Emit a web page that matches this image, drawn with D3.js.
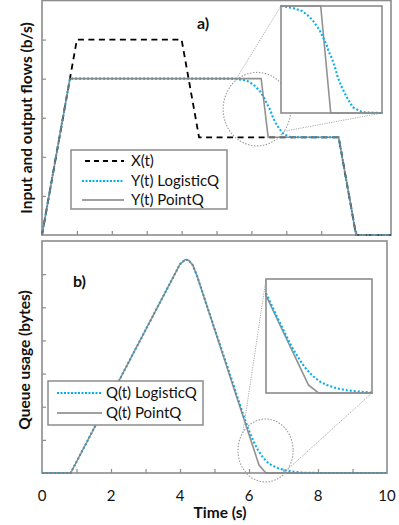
<!DOCTYPE html>
<html><head><meta charset="utf-8">
<script src="https://cdn.jsdelivr.net/npm/d3@7"></script>
<style>
html,body{margin:0;padding:0;background:#fff;}
svg{display:block;font-family:Lato,"Open Sans",sans-serif;}
</style></head>
<body><svg id="c" width="399" height="525"></svg>
<script>
// ---------- data ----------
const timeTicks = [0, 2, 4, 6, 8, 10];
const minorTicks = [1, 2, 3, 4, 5, 6, 7, 8, 9];
const flowTicks = [1, 2, 3, 4, 5];
const queueTicks = [1, 2, 3, 4, 5, 6];

const xT = [0, 0.8, 1.0, 4.0, 4.5, 8.5, 9.0, 10];
const xV = [0, 4, 5, 5, 2.5, 2.5, 0, 0];

const yPointT = [0, 0.8, 6.28, 6.48, 8.5, 9.0, 10];
const yPointV = [0, 4, 4, 2.5, 2.5, 0, 0];

const yLogT = [0, 0.8, 5.5, 5.73, 5.91, 6.02, 6.12, 6.26, 6.32, 6.40, 6.44, 6.50, 6.56, 6.62, 6.70, 6.80, 6.92, 7.11, 7.45, 8.5, 9.0, 10];
const yLogV = [0, 4, 4, 3.97, 3.93, 3.87, 3.80, 3.66, 3.57, 3.45, 3.36, 3.27, 3.15, 3.0, 2.86, 2.72, 2.58, 2.51, 2.5, 2.5, 0, 0];

const qPointT = [0, 0.83, 4.0, 4.15, 4.25, 4.37, 4.5, 6.29, 6.49, 10];
const qPointV = [0, 0, 6.3, 6.44, 6.42, 6.27, 5.93, 0.24, 0, 0];

const qLogT = [0, 0.83, 4.0, 4.15, 4.25, 4.37, 4.5, 5.0, 5.5, 5.66, 5.76, 5.86, 5.96, 6.06, 6.16, 6.26, 6.39, 6.52, 6.65, 6.85, 7.05, 7.31, 7.55, 8, 10];
const qLogV = [0, 0, 6.3, 6.44, 6.42, 6.27, 5.93, 4.36, 2.82, 2.30, 1.99, 1.68, 1.38, 1.13, 0.89, 0.69, 0.49, 0.34, 0.24, 0.14, 0.08, 0.04, 0.01, 0, 0];

const legendA = ["X(t)", "Y(t) LogisticQ", "Y(t) PointQ"];
const legendB = ["Q(t) LogisticQ", "Q(t) PointQ"];

// zoom windows (data units)
const zoomA = {x: [5.49, 7.5], y: [2.5, 4], cx: 6.16, cy: 3.22, rx: 0.97, ry: 0.94};
const zoomB = {x: [5.45, 7.55], y: [0, 3.4], cx: 6.48, cy: 0.68, rx: 0.8, ry: 0.95};

// ---------- styles ----------
const GRAY = "#7f7f7f", BLUE = "#00b0f0", FRAME = "#8c8c8c";
const zip = (t, v) => t.map((d, i) => [d, v[i]]);
const svg = d3.select("#c");

const sxA = d3.scaleLinear().domain([0, 10]).range([42, 391]);
const syA = d3.scaleLinear().domain([0, 6]).range([235, 0.5]);
const sxB = d3.scaleLinear().domain([0, 10]).range([42, 387]);
const syB = d3.scaleLinear().domain([0, 7]).range([473, 241]);

function series(g, sx, sy, t, v, kind, clip) {
  const line = d3.line().x(d => sx(d[0])).y(d => sy(d[1]));
  const p = g.append("path").attr("d", line(zip(t, v))).attr("fill", "none");
  if (clip) p.attr("clip-path", clip);
  if (kind === "dash") p.attr("stroke", "#000").attr("stroke-width", 1.8).attr("stroke-dasharray", "6,4.5");
  if (kind === "solid") p.attr("stroke", GRAY).attr("stroke-width", 1.6).attr("stroke-opacity", 0.85);
  if (kind === "dot") p.attr("stroke", BLUE).attr("stroke-width", 2.1).attr("stroke-dasharray", "2,2");
  return p;
}

function frame(sx, sy, yt) {
  const g = svg.append("g");
  const [x0, x1] = sx.range(), [y0, y1] = sy.range();
  g.append("g").attr("transform", `translate(0,${y0})`)
    .call(d3.axisTop(sx).tickValues(minorTicks).tickSize(4).tickFormat(""))
    .call(a => a.select(".domain").remove())
    .selectAll("line").attr("stroke", FRAME).attr("stroke-width", 1.2);
  g.append("g").attr("transform", `translate(${x0},0)`)
    .call(d3.axisRight(sy).tickValues(yt).tickSize(4).tickFormat(""))
    .call(a => a.select(".domain").remove())
    .selectAll("line").attr("stroke", FRAME).attr("stroke-width", 1.2);
  g.append("rect").attr("x", x0).attr("y", y1).attr("width", x1 - x0).attr("height", y0 - y1)
    .attr("fill", "none").attr("stroke", FRAME).attr("stroke-width", 1.6);
  return g;
}

function zoomInset(sx, sy, z, box, list, clipId, startAng, endAng) {
  const cx = sx(z.cx), cy = sy(z.cy);
  const rx = sx(z.cx + z.rx) - cx, ry = sy(z.cy - z.ry) - cy;
  svg.append("ellipse").attr("cx", cx).attr("cy", cy).attr("rx", rx).attr("ry", ry)
    .attr("fill", "none").attr("stroke", "#999").attr("stroke-width", 1.1).attr("stroke-dasharray", "1.5,1.5");
  const pt = a => [cx + rx * Math.cos(a * Math.PI / 180), cy + ry * Math.sin(a * Math.PI / 180)];
  const p1 = pt(startAng), p2 = pt(endAng);
  svg.append("line").attr("x1", p1[0]).attr("y1", p1[1]).attr("x2", box.x0).attr("y2", box.y0)
    .attr("stroke", "#aaa").attr("stroke-width", 1).attr("stroke-dasharray", "1.2,1.2");
  svg.append("line").attr("x1", p2[0]).attr("y1", p2[1]).attr("x2", box.x1).attr("y2", box.y1)
    .attr("stroke", "#aaa").attr("stroke-width", 1).attr("stroke-dasharray", "1.2,1.2");
  const ix = d3.scaleLinear().domain(z.x).range([box.x0, box.x1]);
  const iy = d3.scaleLinear().domain(z.y).range([box.y1, box.y0]);
  svg.append("rect").attr("x", box.x0).attr("y", box.y0).attr("width", box.x1 - box.x0).attr("height", box.y1 - box.y0)
    .attr("fill", "#fff");
  svg.append("clipPath").attr("id", clipId).append("rect")
    .attr("x", box.x0 - 1).attr("y", box.y0 - 1).attr("width", box.x1 - box.x0 + 2).attr("height", box.y1 - box.y0 + 2);
  const g = svg.append("g");
  list.forEach(s => series(g, ix, iy, s[0], s[1], s[2], `url(#${clipId})`));
  svg.append("rect").attr("x", box.x0).attr("y", box.y0).attr("width", box.x1 - box.x0).attr("height", box.y1 - box.y0)
    .attr("fill", "none").attr("stroke", FRAME).attr("stroke-width", 1.6);
}

function legend(x, y, w, h, rowY, items) {
  const g = svg.append("g");
  g.append("rect").attr("x", x).attr("y", y).attr("width", w).attr("height", h)
    .attr("fill", "#fff").attr("stroke", FRAME).attr("stroke-width", 1.5);
  items.forEach((it, i) => {
    const yy = rowY[i];
    const l = g.append("line").attr("x1", it.lx0).attr("x2", it.lx1).attr("y1", yy).attr("y2", yy);
    if (it.kind === "dash") l.attr("stroke", "#000").attr("stroke-width", 1.8).attr("stroke-dasharray", "5,4");
    if (it.kind === "solid") l.attr("stroke", GRAY).attr("stroke-width", 1.6);
    if (it.kind === "dot") l.attr("stroke", BLUE).attr("stroke-width", 2).attr("stroke-dasharray", "2,1.5");
    g.append("text").attr("x", it.tx).attr("y", yy).attr("dy", "0.35em")
      .attr("font-size", 15).attr("fill", "#111").text(it.label);
  });
}

// ---------- panel a ----------
frame(sxA, syA, flowTicks);
const gA = svg.append("g");
series(gA, sxA, syA, xT, xV, "dash");
series(gA, sxA, syA, yLogT, yLogV, "dot");
series(gA, sxA, syA, yPointT, yPointV, "solid");

zoomInset(sxA, syA, zoomA, {x0: 281, y0: 6, x1: 382, y1: 113}, [
  [yPointT, yPointV, "solid"], [yLogT, yLogV, "dot"]
], "clipA", -132, 37);

legend(71, 150, 156, 59, [161, 181, 200], [
  {kind: "dash", label: legendA[0], lx0: 85, lx1: 124, tx: 131},
  {kind: "dot", label: legendA[1], lx0: 82, lx1: 124, tx: 131},
  {kind: "solid", label: legendA[2], lx0: 82, lx1: 124, tx: 131}
]);

svg.append("text").attr("x", 197).attr("y", 23).attr("dy", "0.35em")
  .attr("font-size", 16).attr("font-weight", "bold").attr("fill", "#111").text("a)");

svg.append("text").attr("transform", "translate(27,118) rotate(-90)")
  .attr("text-anchor", "middle").attr("dy", "0.35em")
  .attr("font-size", 15.5).attr("font-weight", "bold").attr("fill", "#111").text("Input and output flows (b/s)");

// ---------- panel b ----------
frame(sxB, syB, queueTicks);
const gB = svg.append("g");
series(gB, sxB, syB, qLogT, qLogV, "dot");
series(gB, sxB, syB, qPointT, qPointV, "solid");

zoomInset(sxB, syB, zoomB, {x0: 266, y0: 279, x1: 372, y1: 393}, [
  [qPointT, qPointV, "solid"], [qLogT, qLogV, "dot"]
], "clipB", -145, 37);

legend(48, 381, 155, 44, [393, 413], [
  {kind: "dot", label: legendB[0], lx0: 57, lx1: 102, tx: 106},
  {kind: "solid", label: legendB[1], lx0: 57, lx1: 102, tx: 106}
]);

svg.append("text").attr("x", 73).attr("y", 281).attr("dy", "0.35em")
  .attr("font-size", 16).attr("font-weight", "bold").attr("fill", "#111").text("b)");

svg.append("text").attr("transform", "translate(25,360) rotate(-90)")
  .attr("text-anchor", "middle").attr("dy", "0.35em")
  .attr("font-size", 15.5).attr("font-weight", "bold").attr("fill", "#111").text("Queue usage (bytes)");

svg.append("g").selectAll("text").data(timeTicks).join("text")
  .attr("x", d => sxB(d)).attr("y", 496).attr("dy", "0.35em").attr("text-anchor", "middle")
  .attr("font-size", 15).attr("fill", "#111").text(d => d);

svg.append("text").attr("x", 220).attr("y", 513).attr("dy", "0.35em").attr("text-anchor", "middle")
  .attr("font-size", 15.5).attr("font-weight", "bold").attr("fill", "#111").text("Time (s)");
</script></body></html>
